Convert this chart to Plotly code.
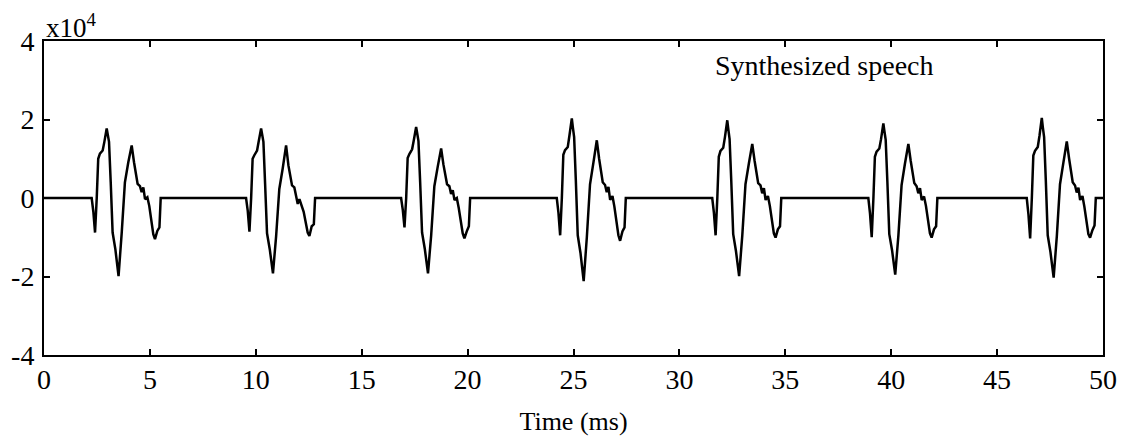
import plotly.graph_objects as go

# ---- data (values in units of 1e4) ----
pulse_starts_ms = [2.25, 9.54, 16.86, 24.21, 31.55, 38.92, 46.40]
pulse_rel_t_ms = [0.00, 0.08, 0.16, 0.24, 0.31, 0.39, 0.52, 0.60, 0.71, 0.76,
                  0.82, 0.90, 0.99, 1.12, 1.27, 1.42, 1.57, 1.73, 1.89, 2.00,
                  2.17, 2.28, 2.36, 2.44, 2.52, 2.63, 2.72, 2.91, 2.99, 3.10,
                  3.20, 3.26]
pulse1 = [0, -0.35, -0.88, 0.0, 1.00, 1.13, 1.21, 1.43, 1.77, 1.62, 1.43, 0.40, -0.88, -1.31, -1.99, -0.88,
          0.40, 0.91, 1.34, 0.91, 0.36, 0.30, 0.15, 0.27, -0.03, 0.02, -0.20, -0.92, -1.05, -0.84, -0.75, 0]
pulse2 = [0, -0.33, -0.86, 0.0, 1.00, 1.09, 1.21, 1.45, 1.77, 1.62, 1.43, 0.35, -0.90, -1.31, -1.92, -0.97,
          0.23, 0.75, 1.34, 0.83, 0.32, 0.27, 0.06, -0.15, -0.03, -0.20, -0.35, -0.88, -0.97, -0.72, -0.67, 0]
pulse3 = [0, -0.30, -0.75, 0.0, 1.02, 1.12, 1.24, 1.47, 1.81, 1.65, 1.45, 0.40, -0.88, -1.30, -1.92, -0.95,
          0.30, 0.80, 1.26, 0.85, 0.35, 0.30, 0.10, 0.20, -0.05, 0.00, -0.25, -0.90, -1.03, -0.85, -0.72, 0]
pulse4 = [0, -0.38, -0.95, 0.0, 1.10, 1.22, 1.30, 1.60, 2.03, 1.80, 1.55, 0.45, -0.95, -1.40, -2.12, -1.00,
          0.35, 0.90, 1.47, 1.00, 0.40, 0.33, 0.15, 0.28, -0.05, 0.05, -0.22, -0.95, -1.09, -0.85, -0.75, 0]
pulse5 = [0, -0.38, -0.95, 0.0, 1.05, 1.20, 1.28, 1.55, 1.98, 1.75, 1.50, 0.42, -0.92, -1.35, -1.99, -0.95,
          0.35, 0.88, 1.38, 0.95, 0.38, 0.32, 0.12, 0.25, -0.05, 0.05, -0.20, -0.90, -1.01, -0.80, -0.72, 0]
pulse6 = [0, -0.40, -1.00, 0.0, 1.05, 1.18, 1.26, 1.50, 1.90, 1.70, 1.48, 0.40, -0.92, -1.33, -1.95, -0.95,
          0.33, 0.88, 1.38, 0.95, 0.38, 0.30, 0.12, 0.25, -0.05, 0.04, -0.20, -0.90, -1.01, -0.80, -0.72, 0]
pulse7 = [0, -0.42, -1.03, 0.0, 1.08, 1.20, 1.30, 1.58, 2.04, 1.80, 1.55, 0.45, -0.95, -1.38, -2.03, -0.97,
          0.35, 0.90, 1.44, 1.00, 0.40, 0.32, 0.14, 0.26, -0.05, 0.05, -0.22, -0.92, -1.01, -0.82, -0.70, 0]
pulses = [pulse1, pulse2, pulse3, pulse4, pulse5, pulse6, pulse7]

x_tickvals = [0, 5, 10, 15, 20, 25, 30, 35, 40, 45, 50]
x_ticktext = ["0", "5", "10", "15", "20", "25", "30", "35", "40", "45", "50"]
y_tickvals = [-4, -2, 0, 2, 4]
y_ticktext = ["-4", "-2", "0", "2", "4"]

# ---- build the signal: flat baseline between pulses ----
t_all = [0.0]
v_all = [0.0]
for start, vals in zip(pulse_starts_ms, pulses):
    for rt, v in zip(pulse_rel_t_ms, vals):
        t_all.append(start + rt)
        v_all.append(v)
t_all.append(50.0)
v_all.append(0.0)

FONT = "Liberation Serif"

fig = go.Figure()
fig.add_trace(go.Scatter(x=t_all, y=v_all, mode="lines",
                         line=dict(color="black", width=2.5), showlegend=False))

axis_common = dict(showline=True, linecolor="black", linewidth=2, mirror="ticks",
                   ticks="inside", ticklen=6, tickwidth=1.5, tickcolor="black",
                   showgrid=False, zeroline=False, automargin=False,
                   tickfont=dict(family=FONT, size=28, color="black"))

# page body has an 8px default margin, so the figure is sized to fit the window
fig.update_layout(
    width=1117, height=432,
    margin=dict(l=36, r=22, t=33, b=85),
    plot_bgcolor="white", paper_bgcolor="white",
    xaxis=dict(range=[0, 50], tickmode="array", tickvals=x_tickvals, ticktext=x_ticktext,
               ticklabelstandoff=-2,
               title=dict(text="Time (ms)", font=dict(family=FONT, size=26, color="black"), standoff=18),
               **axis_common),
    yaxis=dict(range=[-4, 4], tickmode="array", tickvals=y_tickvals, ticktext=y_ticktext,
               ticklabelstandoff=2, **axis_common),
    annotations=[
        dict(text="x10<sup>4</sup>", xref="paper", yref="paper", x=0, y=1, xanchor="left",
             yanchor="bottom", showarrow=False, yshift=-4,
             font=dict(family=FONT, size=27, color="black")),
        dict(text="Synthesized speech", xref="x", yref="y", x=31.6, y=3.37, xanchor="left",
             yanchor="middle", showarrow=False,
             font=dict(family=FONT, size=28, color="black")),
    ],
)

fig.write_html("out.html")
